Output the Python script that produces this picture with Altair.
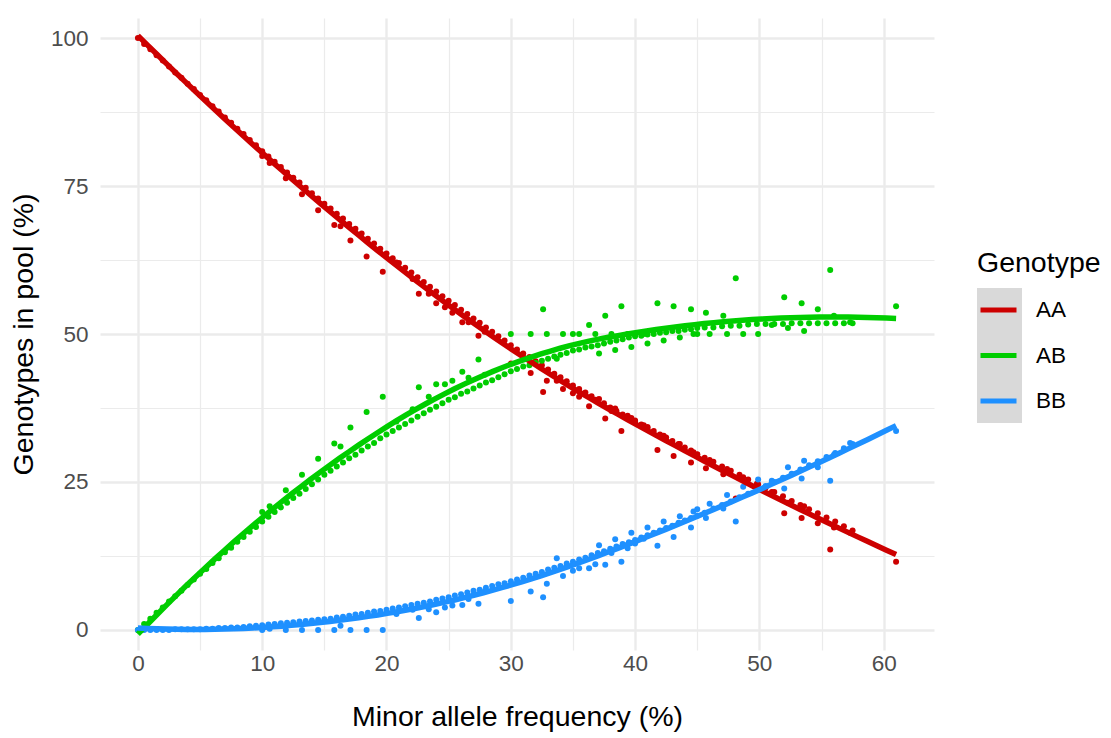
import altair as alt
import numpy as np
import pandas as pd

# Pools lying along the main trend: minor allele frequency (%) and genotype shares (%)
maf_main = [
    0.0, 0.5, 1.0, 1.5, 2.0, 2.5, 3.0, 3.5, 4.0, 4.5,
    5.0, 5.5, 6.0, 6.5, 7.0, 7.5, 8.0, 8.5, 9.0, 9.5,
    10.0, 10.5, 11.0, 11.5, 12.0, 12.5, 13.0, 13.5, 14.0, 14.5,
    15.0, 15.5, 16.0, 16.5, 17.0, 17.5, 18.0, 18.5, 19.0, 19.5,
    20.0, 20.5, 21.0, 21.5, 22.0, 22.5, 23.0, 23.5, 24.0, 24.5,
    25.0, 25.5, 26.0, 26.5, 27.0, 27.5, 28.0, 28.5, 29.0, 29.5,
    30.0, 30.5, 31.0, 31.5, 32.0, 32.5, 33.0, 33.5, 34.0, 34.5,
    35.0, 35.5, 36.0, 36.5, 37.0, 37.5, 38.0, 38.5, 39.0, 39.5,
    40.0, 40.5, 41.0, 41.5, 42.0, 42.5, 43.0, 43.5, 44.0, 44.5,
    45.0, 45.6, 46.3, 47.0, 47.7, 48.4, 49.1, 49.8, 50.5, 51.2,
    51.9, 52.6, 53.3, 54.0, 54.7, 55.4, 56.1, 56.8, 57.5,
]
aa_main = [
    100.0, 99.0, 98.1, 97.1, 96.2, 95.2, 94.2, 93.3, 92.3, 91.4,
    90.4, 89.5, 88.5, 87.6, 86.6, 85.7, 84.7, 83.8, 82.8, 81.9,
    80.9, 80.0, 79.1, 78.2, 77.3, 76.4, 75.6, 74.7, 73.8, 72.9,
    72.0, 71.2, 70.3, 69.5, 68.6, 67.8, 67.0, 66.1, 65.3, 64.4,
    63.6, 62.8, 62.0, 61.2, 60.4, 59.6, 58.8, 58.0, 57.2, 56.4,
    55.6, 54.9, 54.1, 53.4, 52.6, 51.9, 51.1, 50.4, 49.6, 48.9,
    48.1, 47.4, 46.7, 46.1, 45.4, 44.7, 44.0, 43.3, 42.7, 42.0,
    41.3, 40.7, 40.1, 39.5, 38.9, 38.3, 37.6, 37.0, 36.4, 35.8,
    35.2, 34.7, 34.1, 33.6, 33.0, 32.5, 31.9, 31.4, 30.8, 30.3,
    29.7, 29.1, 28.4, 27.6, 26.9, 26.2, 25.4, 24.7, 24.0, 23.3,
    22.6, 21.8, 21.1, 20.4, 19.7, 19.0, 18.3, 17.5, 16.8,
]
ab_main = [
    0.0, 1.0, 1.9, 2.9, 3.8, 4.8, 5.7, 6.6, 7.6, 8.5,
    9.5, 10.3, 11.3, 12.1, 13.1, 13.9, 14.9, 15.7, 16.6, 17.4,
    18.3, 19.1, 19.9, 20.7, 21.5, 22.3, 23.0, 23.8, 24.6, 25.4,
    26.2, 26.9, 27.6, 28.3, 29.0, 29.6, 30.3, 31.0, 31.6, 32.4,
    33.0, 33.6, 34.2, 34.8, 35.4, 36.0, 36.6, 37.2, 37.7, 38.3,
    38.9, 39.3, 39.9, 40.3, 40.8, 41.3, 41.8, 42.2, 42.7, 43.2,
    43.7, 44.1, 44.5, 44.7, 45.1, 45.5, 45.8, 46.2, 46.5, 46.8,
    47.2, 47.4, 47.7, 47.9, 48.1, 48.4, 48.7, 48.9, 49.1, 49.4,
    49.6, 49.7, 49.9, 50.0, 50.2, 50.3, 50.5, 50.5, 50.7, 50.8,
    51.0, 51.1, 51.1, 51.3, 51.4, 51.4, 51.6, 51.7, 51.7, 51.7,
    51.7, 51.8, 51.8, 51.8, 51.8, 51.8, 51.8, 51.8, 51.8,
]
bb_main = [
    0.0, 0.0, 0.0, 0.0, 0.0, 0.0, 0.1, 0.1, 0.1, 0.1,
    0.1, 0.2, 0.2, 0.3, 0.3, 0.4, 0.4, 0.5, 0.6, 0.7,
    0.8, 0.9, 1.0, 1.1, 1.2, 1.3, 1.4, 1.5, 1.6, 1.7,
    1.8, 1.9, 2.1, 2.2, 2.4, 2.6, 2.7, 2.9, 3.1, 3.2,
    3.4, 3.6, 3.8, 4.0, 4.2, 4.4, 4.6, 4.8, 5.1, 5.3,
    5.5, 5.8, 6.0, 6.3, 6.6, 6.8, 7.1, 7.4, 7.7, 7.9,
    8.2, 8.5, 8.8, 9.2, 9.5, 9.8, 10.2, 10.5, 10.8, 11.2,
    11.5, 11.9, 12.2, 12.6, 13.0, 13.3, 13.7, 14.1, 14.5, 14.8,
    15.2, 15.6, 16.0, 16.4, 16.8, 17.2, 17.6, 18.1, 18.5, 18.9,
    19.3, 19.8, 20.5, 21.1, 21.7, 22.4, 23.0, 23.6, 24.3, 25.0,
    25.7, 26.4, 27.1, 27.8, 28.5, 29.2, 29.9, 30.7, 31.4,
]

# Pools that sit away from the main trend
maf_off = [
    10.0, 10.6, 11.9, 13.2, 14.5, 15.8, 16.3, 17.1, 18.4, 19.7,
    20.8, 22.1, 22.6, 23.4, 24.0, 24.7, 25.3, 26.1, 26.6, 27.4,
    27.9, 30.0, 31.6, 32.6, 32.9, 33.7, 34.2, 35.0, 35.5, 36.3,
    36.8, 37.1, 37.6, 38.1, 38.4, 38.9, 39.4, 39.7, 40.0, 40.7,
    41.0, 41.8, 42.3, 43.1, 43.6, 44.5, 44.7, 45.0, 45.7, 46.0,
    47.1, 47.4, 48.1, 48.7, 49.9, 51.0, 52.0, 52.3, 53.4, 53.6,
    54.7, 55.7, 56.0, 57.3, 61.0,
]
aa_off = [
    80.1, 78.9, 76.3, 73.6, 70.9, 68.4, 68.2, 65.8, 63.1, 60.5,
    62.1, 59.3, 56.8, 56.8, 55.2, 54.5, 53.6, 52.0, 52.0, 49.7,
    50.4, 45.0, 43.4, 40.2, 42.1, 42.1, 40.7, 40.0, 39.4, 37.8,
    38.9, 39.0, 35.7, 37.0, 37.4, 33.6, 36.2, 35.8, 35.4, 34.6,
    34.3, 30.4, 32.8, 29.4, 31.4, 28.3, 30.0, 29.6, 27.3, 28.7,
    26.3, 27.2, 22.2, 25.8, 24.6, 23.3, 19.7, 21.5, 18.9, 20.9,
    18.0, 13.6, 17.3, 16.4, 11.5,
]
ab_off = [
    19.9, 20.9, 23.6, 26.2, 28.9, 31.5, 31.0, 34.2, 36.8, 39.4,
    35.2, 37.3, 41.0, 39.4, 41.5, 41.5, 42.1, 43.6, 42.6, 45.7,
    43.1, 50.0, 50.0, 54.2, 50.0, 45.8, 50.0, 50.0, 50.0, 51.5,
    50.0, 46.7, 53.1, 50.0, 47.3, 54.7, 50.0, 47.8, 50.0, 50.0,
    48.4, 55.2, 48.9, 54.7, 49.4, 54.2, 50.0, 50.0, 53.6, 50.0,
    53.1, 50.0, 59.4, 50.0, 50.0, 51.5, 56.2, 51.0, 55.2, 50.5,
    54.2, 60.8, 53.1, 52.0, 54.7,
]
bb_off = [
    0.0, 0.2, 0.0, 0.0, 0.0, 0.0, 0.7, 0.0, 0.0, 0.0,
    2.7, 3.4, 2.0, 3.5, 3.0, 3.8, 4.1, 4.2, 5.2, 4.4,
    6.5, 4.9, 6.5, 5.5, 7.8, 12.1, 9.1, 10.0, 10.4, 10.4,
    11.1, 14.3, 11.0, 13.0, 15.3, 11.5, 13.8, 16.4, 14.6, 15.4,
    17.3, 14.2, 18.3, 15.7, 19.2, 17.3, 20.0, 20.4, 18.9, 21.3,
    20.5, 22.8, 18.3, 24.2, 25.4, 25.2, 23.9, 27.5, 25.6, 28.6,
    27.5, 25.2, 29.6, 31.6, 33.6,
]

genotypes = ["AA", "AB", "BB"]
colours = ["#CD0000", "#00CD00", "#1E90FF"]

maf_all = maf_main + maf_off
shares = {
    "AA": aa_main + aa_off,
    "AB": ab_main + ab_off,
    "BB": bb_main + bb_off,
}

rows = []
for g in genotypes:
    for m, v in zip(maf_all, shares[g]):
        rows.append({"maf": m, "genotype": g, "pct": v})
df = pd.DataFrame(rows)


def loess(xs, ys, grid, span=0.75):
    """Local quadratic fit with tricube weights (as R's loess defaults)."""
    xs = np.asarray(xs, dtype=float)
    ys = np.asarray(ys, dtype=float)
    q = int(np.floor(span * len(xs)))
    fitted = []
    for x0 in grid:
        d = np.abs(xs - x0)
        h = np.sort(d)[q - 1]
        w = np.clip(1 - (d / h) ** 3, 0, None) ** 3
        sw = np.sqrt(w)
        X = np.column_stack([np.ones_like(xs), xs - x0, (xs - x0) ** 2])
        beta = np.linalg.lstsq(X * sw[:, None], ys * sw, rcond=None)[0]
        fitted.append(beta[0])
    return fitted


grid = np.linspace(min(maf_all), max(maf_all), 80)
fit_rows = []
for g in genotypes:
    for gx, gy in zip(grid, loess(maf_all, shares[g], grid)):
        fit_rows.append({"maf": float(gx), "genotype": g, "pct": float(gy)})
fit_df = pd.DataFrame(fit_rows)

FONT = "Liberation Sans"
MAJOR_W = 2.4
MINOR_W = 1.2

x_enc = alt.X(
    "maf:Q",
    scale=alt.Scale(domain=[-3.05, 64.05], nice=False, zero=False),
    axis=alt.Axis(
        values=list(range(0, 61, 5)),
        labelExpr="datum.value % 10 === 0 ? datum.label : ''",
        title="Minor allele frequency (%)",
        gridWidth={"condition": {"test": "datum.value % 10 === 0", "value": MAJOR_W}, "value": MINOR_W},
        labelPadding=2,
        titlePadding=28,
    ),
)
y_enc = alt.Y(
    "pct:Q",
    scale=alt.Scale(domain=[-3.4, 103.4], nice=False, zero=False),
    axis=alt.Axis(
        values=[0, 12.5, 25, 37.5, 50, 62.5, 75, 87.5, 100],
        labelExpr="datum.value % 25 === 0 ? datum.label : ''",
        title="Genotypes in pool (%)",
        gridWidth={"condition": {"test": "datum.value % 25 === 0", "value": MAJOR_W}, "value": MINOR_W},
        labelPadding=12,
        titlePadding=12,
    ),
)

legend = alt.Legend(
    title="Genotype",
    orient="none",
    legendX=877,
    legendY=231,
    symbolType="stroke",
    symbolStrokeWidth=5,
    symbolSize=1296,
    symbolOffset=1,
    labelOffset=17,
    rowPadding=13.5,
    titlePadding=12,
    titleFontSize=28.5,
    titleFontWeight="normal",
    titleColor="#000000",
    titleFont=FONT,
    labelFontSize=22.5,
    labelColor="#000000",
    labelFont=FONT,
    zindex=1,
)
colour_enc = alt.Color(
    "genotype:N",
    scale=alt.Scale(domain=genotypes, range=colours),
    legend=legend,
)

points = alt.Chart(df).mark_circle(size=36, opacity=1).encode(x=x_enc, y=y_enc, color=colour_enc)

fits = (
    alt.Chart(fit_df)
    .mark_line(strokeWidth=5.5)
    .encode(x=x_enc, y=y_enc, color=colour_enc, order="maf:Q")
)

# grey key background behind the legend symbols
key_bg = (
    alt.Chart(alt.Data(values=[{"k": 1}]))
    .mark_rect(color="#D9D9D9")
    .encode(x=alt.value(877), x2=alt.value(922), y=alt.value(270), y2=alt.value(405))
)

chart = (
    alt.layer(points, fits, key_bg)
    .properties(
        width=834,
        height=632,
        padding={"left": 100, "top": 18, "right": 177, "bottom": 88},
        autosize=alt.AutoSizeParams(type="none"),
    )
    .configure(font=FONT, background="#FFFFFF")
    .configure_view(strokeWidth=0)
    .configure_axis(
        domain=False,
        ticks=False,
        tickSize=0,
        gridColor="#EBEBEB",
        labelFont=FONT,
        labelFontSize=22.5,
        labelColor="#4D4D4D",
        titleFont=FONT,
        titleFontSize=28.5,
        titleFontWeight="normal",
        titleColor="#000000",
    )
)

chart.save("out.html", embed_options={"renderer": "svg", "actions": False})
